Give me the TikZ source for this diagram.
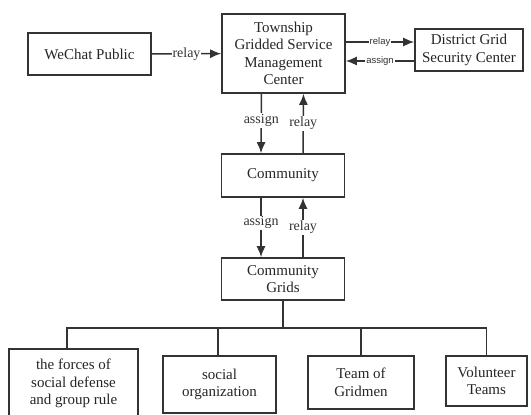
\documentclass[tikz,border=0pt]{standalone}
\usepackage{fontspec}
\setmainfont{Liberation Serif}
\newfontfamily\lblfont{Liberation Sans}
\usepackage{tikz}
\usetikzlibrary{arrows.meta}
\usetikzlibrary{positioning}
\tikzset{
    box/.style = {rectangle, draw=black!80, line width=1.6pt, align=center, fill=white, inner sep=2pt},
    conn/.style = {line width=1.5pt, draw=black!80},
    arr/.style = {conn, -{Latex[length=11pt,width=9pt]}},
    lbl/.style = {fill=white, inner sep=1pt, font=\fontsize{14}{14}\selectfont, text=black!80},
    slbl/.style = {fill=white, inner sep=1pt, font=\lblfont\fontsize{9.5}{9.5}\selectfont, text=black!80},
}

\begin{document}
\begin{tikzpicture}[
	x=1pt, y=-1pt,
	font=\fontsize{15}{17.5}\selectfont,
	text=black!85
]
\useasboundingbox[fill=white] (0,0) rectangle (531,415);
\node[box, minimum width=123, minimum height=42] at (89.5,54) (wechat) {WeChat Public};
\node[box, minimum width=123, minimum height=79] at (283.5,53.5) (township) {Township\\Gridded Service\\Management\\Center};
\node[box, minimum width=108, minimum height=42] at (469,50) (district) {District Grid\\Security Center};
\node[box, minimum width=123, minimum height=43] at (283,175.5) (community) {Community};
\node[box, minimum width=123, minimum height=42] at (283,279) (grids) {Community\\Grids};
\node[box, minimum width=129, minimum height=69] at (73.5,383.5) (forces) {the forces of\\social defense\\and group rule};
\node[box, minimum width=113, minimum height=57] at (219.5,384.5) (social) {social\\organization};
\node[box, minimum width=106, minimum height=53] at (361,382.5) (gridmen) {Team of\\Gridmen};
\node[box, minimum width=81, minimum height=50] at (486.5,381) (volunteer) {Volunteer\\Teams};
\coordinate (bus) at (283,328);
%
\draw[arr] (wechat) -- node[lbl] {relay} (township);
\draw[arr] ([yshift=11.5]township.east) -- node[slbl] {relay} ([yshift=8]district.west);
\draw[arr] ([yshift=-11]district.west) -- node[slbl] {assign} ([yshift=-7.5]township.east);
%
\draw[arr] ([xshift=-22]township.south) -- node[lbl, pos=0.45] {assign} ([xshift=-22]community.north);
\draw[arr] ([xshift=20]community.north) -- node[lbl, pos=0.5] {relay} ([xshift=20]township.south);
\draw[arr] ([xshift=-22]community.south) -- node[lbl, pos=0.42] {assign} ([xshift=-22]grids.north);
\draw[arr] ([xshift=20]grids.north) -- node[lbl, pos=0.5] {relay} ([xshift=20]community.south);
%
\draw[conn] (grids) -- (bus);
\draw[conn] (bus) -| ([xshift=-6.5]forces.north);
\draw[conn] (bus) -| ([xshift=-1.5]social.north);
\draw[conn] (bus) -| (gridmen.north);
\draw[conn] (bus) -| (volunteer.north);
\end{tikzpicture}
\end{document}
